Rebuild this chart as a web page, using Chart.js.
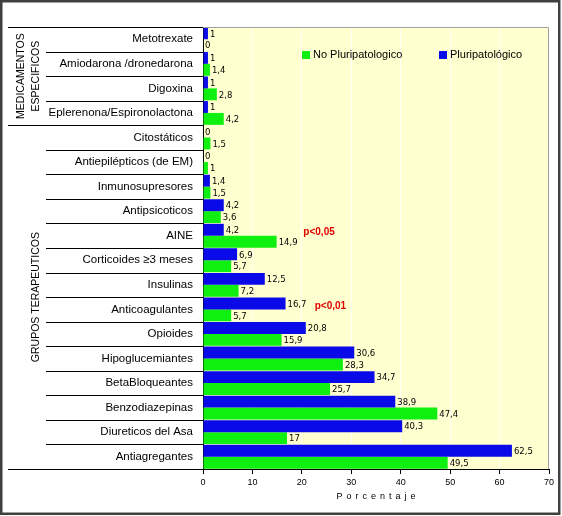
<!DOCTYPE html>
<html>
<head>
<meta charset="utf-8">
<script src="https://cdn.jsdelivr.net/npm/chart.js@4.4.1/dist/chart.umd.min.js"></script>
<style>
	html, body { margin: 0; padding: 0; background: #fff; }
</style>
</head>
<body>
<canvas id="chart" width="562" height="516"></canvas>
<script>
const categories = [
	'Metotrexate', 'Amiodarona /dronedarona', 'Digoxina', 'Eplerenona/Espironolactona',
	'Citostáticos', 'Antiepilépticos (de EM)', 'Inmunosupresores', 'Antipsicoticos',
	'AINE', 'Corticoides ≥3 meses', 'Insulinas', 'Anticoagulantes', 'Opioides',
	'Hipoglucemiantes', 'BetaBloqueantes', 'Benzodiazepinas', 'Diureticos del Asa', 'Antiagregantes'
];
const pluriValues = [1, 1, 1, 1, 0, 0, 1.4, 4.2, 4.2, 6.9, 12.5, 16.7, 20.8, 30.6, 34.7, 38.9, 40.3, 62.5];
const noPluriValues = [0, 1.4, 2.8, 4.2, 1.5, 1, 1.5, 3.6, 14.9, 5.7, 7.2, 5.7, 15.9, 28.3, 25.7, 47.4, 17, 49.5];

const groupNames = [['MEDICAMENTOS', 'ESPECIFICOS'], ['GRUPOS TERAPEUTICOS']];
const groupSizes = [4, 14];

const pNotes = ['p<0,05', 'p<0,01'];
const pNoteCategories = ['AINE', 'Anticoagulantes'];
const pNoteX = [20.3, 22.6];

const axisTitle = 'Porcentaje';
const xMax = 70;
const xStep = 10;

const blueColor = '#0a0ae8';
const greenColor = '#10f010';
const plotBg = '#ffffcf';

function fmt(v) {
	return String(v).replace('.', ',');
}

const decorPlugin = {
	id: 'decor',
	beforeDraw(chart) {
		const { ctx, chartArea: { left, top, right, bottom } } = chart;
		ctx.save();
		ctx.fillStyle = '#fff';
		ctx.fillRect(0, 0, chart.width, chart.height);
		ctx.fillStyle = plotBg;
		ctx.fillRect(left, top, right - left, bottom - top);
		ctx.restore();
	},
	afterDatasetsDraw(chart) {
		const { ctx } = chart;
		ctx.save();
		ctx.font = '8.5px "DejaVu Sans"';
		ctx.fillStyle = '#000';
		ctx.textBaseline = 'middle';
		chart.data.datasets.forEach((ds, di) => {
			chart.getDatasetMeta(di).data.forEach((bar, i) => {
				ctx.fillText(fmt(ds.data[i]), bar.x + 2, bar.y + 1);
			});
		});
		ctx.restore();
	},
	afterDraw(chart) {
		const { ctx, chartArea: { left, top, right, bottom }, scales: { x, y } } = chart;
		const h = (bottom - top) / categories.length;
		ctx.save();

		// plot frame (top / right)
		ctx.strokeStyle = '#a0a0a0';
		ctx.lineWidth = 1;
		ctx.beginPath();
		ctx.moveTo(left, top + 0.5);
		ctx.lineTo(right - 0.5, top + 0.5);
		ctx.lineTo(right - 0.5, bottom);
		ctx.stroke();

		// row separators and group lines
		const groupEdges = [0];
		groupSizes.forEach(s => groupEdges.push(groupEdges[groupEdges.length - 1] + s));
		ctx.strokeStyle = '#000';
		for (let i = 0; i <= categories.length; i++) {
			const yy = Math.round(top + i * h) + 0.5;
			const x0 = groupEdges.includes(i) ? 8 : 46;
			ctx.beginPath();
			ctx.moveTo(x0, yy);
			ctx.lineTo(left, yy);
			ctx.stroke();
		}

		// group labels
		ctx.fillStyle = '#000';
		ctx.font = '10.5px "Liberation Sans"';
		ctx.textAlign = 'center';
		ctx.textBaseline = 'middle';
		groupNames.forEach((lines, g) => {
			const cy = top + (groupEdges[g] + groupSizes[g] / 2) * h;
			const xs = lines.length == 2 ? [21, 36] : [36];
			lines.forEach((txt, k) => {
				ctx.save();
				ctx.translate(xs[k], cy);
				ctx.rotate(-Math.PI / 2);
				ctx.fillText(txt, 0, 0);
				ctx.restore();
			});
		});

		// legend
		const legendX = [302, 439];
		const order = [1, 0];
		ctx.font = '11px "Liberation Sans"';
		ctx.textAlign = 'left';
		order.forEach((di, k) => {
			const ds = chart.data.datasets[di];
			ctx.fillStyle = ds.backgroundColor;
			ctx.fillRect(legendX[k], 51, 8, 8);
			ctx.fillStyle = '#000';
			ctx.fillText(ds.label, legendX[k] + 11, 55);
		});

		// p notes
		ctx.font = 'bold 10px "Liberation Sans"';
		ctx.fillStyle = '#e00000';
		pNotes.forEach((txt, k) => {
			const yy = y.getPixelForValue(categories.indexOf(pNoteCategories[k])) - 3;
			ctx.fillText(txt, x.getPixelForValue(pNoteX[k]), yy);
		});

		// axis title, letter spaced
		ctx.font = '9px "Liberation Sans"';
		ctx.fillStyle = '#000';
		ctx.textAlign = 'center';
		ctx.letterSpacing = '4px';
		ctx.fillText(axisTitle, (left + right) / 2 + 2, 497);
		ctx.letterSpacing = '0px';

		// outer frame
		ctx.strokeStyle = '#404040';
		ctx.lineWidth = 2.5;
		ctx.strokeRect(1.25, 1.25, 558, 512.5);
		ctx.restore();
	}
};

new Chart(document.getElementById('chart'), {
	type: 'bar',
	data: {
		labels: categories,
		datasets: [{
			label: 'Pluripatológico',
			data: pluriValues,
			backgroundColor: blueColor,
		}, {
			label: 'No Pluripatologico',
			data: noPluriValues,
			backgroundColor: greenColor,
		}]
	},
	options: {
		indexAxis: 'y',
		responsive: false,
		animation: false,
		categoryPercentage: 0.97,
		barPercentage: 1,
		layout: {
			padding: { left: 10, right: 13, top: 27, bottom: 0 }
		},
		plugins: {
			legend: { display: false },
			tooltip: { enabled: false }
		},
		scales: {
			x: {
				min: 0,
				max: xMax,
				afterFit: (scale) => { scale.height = 47; },
				ticks: {
					stepSize: xStep,
					color: '#000',
					padding: 3,
					font: { family: 'Liberation Sans', size: 9 }
				},
				grid: {
					color: 'rgba(255,255,255,0.85)',
					tickColor: '#000',
					tickLength: 5
				},
				border: { color: '#000' }
			},
			y: {
				afterFit: (scale) => { scale.width = 193; },
				ticks: {
					color: '#000',
					padding: 2,
					autoSkip: false,
					font: { family: 'Liberation Sans', size: 11.5 }
				},
				grid: { display: false },
				border: { color: '#000' }
			}
		}
	},
	plugins: [decorPlugin]
});
</script>
</body>
</html>
